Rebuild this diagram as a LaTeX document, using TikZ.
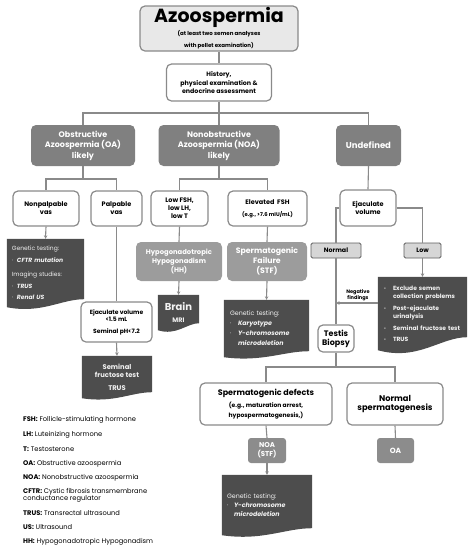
\documentclass[tikz,border=0pt]{standalone}
\usepackage{fontspec}
\setmainfont{Poppins}
\usetikzlibrary{arrows.meta,calc,backgrounds}
\definecolor{lineg}{HTML}{8A8A8A}
\definecolor{boxg}{HTML}{808080}
\definecolor{midg}{HTML}{9C9C9C}
\definecolor{lowg}{HTML}{8C8C8C}
\definecolor{docfill}{HTML}{4D4D4D}
\definecolor{doctext}{HTML}{F2F2F2}
\definecolor{titlefill}{HTML}{E8E8E8}
\definecolor{tagfill}{HTML}{D6D6D6}
\definecolor{tagline}{HTML}{5E5E5E}
\newcommand{\docbg}[2]{\fill[docfill] (#1.north west) -- (#1.north east) -- ($(#1.south east)+(0,-#2)$) .. controls ($(#1.south east)!0.3!(#1.south west)+(0,-#2)$) and ($(#1.south west)!0.45!(#1.south east)+(0,0.85*#2)$) .. (#1.south west) -- cycle;}
\newcommand{\bul}[1]{\makebox[#1][l]{·}}
\newcommand{\fsz}[2]{\fontsize{#1}{#2}\selectfont}
\begin{document}
\begin{tikzpicture}[x=1pt,y=-1pt,
  box/.style={rectangle, rounded corners=5pt, inner sep=1pt, align=center},
  wbox/.style={box, draw=lineg, line width=1.2pt, fill=white, text=black},
  gbox/.style={box, fill=boxg, text=white},
  mbox/.style={box, fill=midg, text=white},
  lbox/.style={box, rounded corners=3pt, fill=lowg, text=white},
  tag/.style={rectangle, rounded corners=1.5pt, draw=tagline, line width=0.8pt, fill=tagfill, inner sep=0pt, font=\bfseries\fsz{6.3}{7}},
  doc/.style={rectangle, inner xsep=5pt, inner ysep=0pt, align=left, text=doctext},
  cdoc/.style={rectangle, inner sep=0pt, align=center, text=doctext},
  conn/.style={draw=lineg, line width=1.1pt},
  arr/.style={conn, -{Stealth[length=3.5pt,width=3.5pt]}},
  leg/.style={anchor=west, inner sep=0pt, align=left, font=\fsz{6.7}{7}}
]
\useasboundingbox (0,0) rectangle (472,550);

% title
\node[wbox, fill=titlefill, minimum width=158pt, minimum height=45pt, font=\bfseries] (title) at (219,28.5)
  {\fsz{19}{19}Azoospermia\\[1pt]\fsz{5.5}{7.5}(at least two semen analyses\\\fsz{5.5}{7.5}with pellet examination)};
\node[wbox, minimum width=105pt, minimum height=37pt, font=\bfseries\fsz{6.3}{8.3}] (hist) at (219,82.5)
  {History,\\physical examination \&\\endocrine assessment};

% level 2
\node[gbox, minimum width=104pt, minimum height=41pt, font=\bfseries\fsz{8}{10.5}] (oa) at (83,145.5)
  {Obstructive\\Azoospermia (OA)\\likely};
\node[gbox, minimum width=121pt, minimum height=41pt, font=\bfseries\fsz{8}{10.5}] (noa) at (219,145.5)
  {Nonobstructive\\Azoospermia (NOA)\\likely};
\node[gbox, minimum width=65pt, minimum height=41pt, font=\bfseries\fsz{8.5}{10}] (undef) at (368.5,145.5)
  {Undefined};

% level 3
\node[wbox, minimum width=66pt, minimum height=35pt, font=\bfseries\fsz{6.5}{8}] (nonpalp) at (46,208.5)
  {Nonpalpable\\vas};
\node[wbox, minimum width=51pt, minimum height=35pt, font=\bfseries\fsz{6.5}{8}] (palp) at (116.5,208.5)
  {Palpable\\vas};
\node[wbox, minimum width=57pt, minimum height=35pt, font=\bfseries\fsz{6.5}{8}] (lowfsh) at (179.5,208.5)
  {Low FSH,\\low LH,\\low T};
\node[wbox, minimum width=79pt, minimum height=35pt, font=\bfseries] (elev) at (267.5,208.5)
  {\fsz{6.5}{7.5}Elevated\ \ FSH\\\fsz{5.3}{7}(e.g., >7.6 mIU/mL)};
\node[wbox, minimum width=56pt, minimum height=36pt, font=\bfseries\fsz{6.5}{8}] (ejac) at (368,208)
  {Ejaculate\\volume};

% tags
\node[tag, minimum width=50pt, minimum height=15pt] (normal) at (336,250.5) {Normal};
\node[tag, minimum width=37pt, minimum height=15pt] (low) at (422.5,250.5) {Low};

% NOA column
\node[mbox, minimum width=86pt, minimum height=39pt, font=\bfseries\fsz{6.8}{9}] (hh) at (179,261.5)
  {Hypogonadotropic\\Hypogonadism\\(HH)};
\node[mbox, minimum width=80pt, minimum height=39pt, font=\bfseries\fsz{7.8}{10}] (stf) at (267,261.5)
  {Spermatogenic\\Failure\\(STF)};

% document boxes
\node[doc, text width=67pt, minimum height=68pt, font=\fsz{6}{11.5}] (doc1) at (45.5,273)
  {Genetic testing:\\\bul{5pt}\textbf{\textit{CFTR mutation}}\\[3pt]Imaging studies:\\\bul{5pt}\textbf{\textit{TRUS}}\\\bul{5pt}\textbf{\textit{Renal US}}};
\node[cdoc, minimum width=41pt, minimum height=35pt, font=\bfseries] (brain) at (178.5,312.5)
  {\fsz{10}{11}Brain\\\fsz{6.5}{8}MRI};
\node[doc, inner xsep=6pt, text width=73pt, minimum height=57pt, font=\fsz{6.3}{10}] (stfdoc) at (266.5,328.5)
  {Genetic testing:\\\bul{8pt}\textbf{\textit{Karyotype}}\\\bul{8pt}\textbf{\textit{Y-chromosome}}\\\hspace*{8pt}\textbf{\textit{microdeletion}}};
\node[wbox, minimum width=71pt, minimum height=40pt, font=\bfseries\fsz{6}{7.5}] (ejac2) at (116.5,322)
  {Ejaculate volume\\<1.5 mL\\[4pt]Seminal pH<7.2};
\node[cdoc, minimum width=70pt, minimum height=42pt, font=\bfseries\fsz{6.8}{8.5}] (palpdoc) at (117,377)
  {Seminal\\fructose test\\[4pt]TRUS};
\node[doc, inner xsep=6pt, text width=77pt, minimum height=73pt, font=\bfseries\fsz{6}{8}] (lowdoc) at (422.5,313.5)
  {\bul{9pt}Exclude semen\\\hspace*{9pt}collection problems\\[4pt]\bul{9pt}Post-ejaculate\\\hspace*{9pt}urinalysis\\[4pt]\bul{9pt}Seminal fructose test\\[3pt]\bul{9pt}TRUS};

\node[inner sep=0pt, align=center, font=\bfseries\fsz{5}{6}] (negf) at (358,295) {Negative\\findings};

% biopsy
\node[wbox, minimum width=36pt, minimum height=27pt, font=\bfseries\fsz{8}{9}] (testis) at (336,338.5)
  {Testis\\Biopsy};
\node[wbox, minimum width=132pt, minimum height=42pt, font=\bfseries] (specdef) at (266,404)
  {\fsz{8}{10}Spermatogenic defects\\\fsz{6}{9}(e.g., maturation arrest,\\[-1.5pt]\fsz{6}{9}hypospermatogenesis,)};
\node[wbox, minimum width=96pt, minimum height=42pt, font=\bfseries\fsz{8.3}{9.5}] (normsp) at (395,404)
  {Normal\\spermatogenesis};
\node[lbox, minimum width=38pt, minimum height=25pt, font=\bfseries\fsz{7}{9}] (noastf) at (267,450.5)
  {NOA\\(STF)};
\node[lbox, minimum width=37pt, minimum height=25pt, font=\bfseries\fsz{7.5}{9}] (oabot) at (395.5,450.5)
  {OA};
\node[doc, text width=80pt, minimum height=60pt, font=\fsz{6.3}{9}] (doc3) at (267,505)
  {Genetic testing:\\\bul{7pt}\textbf{\textit{Y-chromosome}}\\\hspace*{7pt}\textbf{\textit{microdeletion}}\\[8pt]};

% legend
\node[leg] (lg1) at (23,420) {\textbf{FSH:} Follicle-stimulating hormone};
\node[leg] (lg2) at (23,434.5) {\textbf{LH:} Luteinizing hormone};
\node[leg] (lg3) at (23,449) {\textbf{T:} Testosterone};
\node[leg] (lg4) at (23,463.5) {\textbf{OA:} Obstructive azoospermia};
\node[leg] (lg5) at (23,478) {\textbf{NOA:} Nonobstructive azoospermia};
\node[leg] (lg6) at (23,495.5) {\textbf{CFTR:} Cystic fibrosis transmembrane\\conductance regulator};
\node[leg] (lg7) at (23,513) {\textbf{TRUS:} Transrectal ultrasound};
\node[leg] (lg8) at (23,527.5) {\textbf{US:} Ultrasound};
\node[leg] (lg9) at (23,542) {\textbf{HH:} Hypogonadotropic Hypogonadism};

% document shapes
\begin{pgfonlayer}{background}
\docbg{doc1}{8}
\docbg{brain}{7}
\docbg{stfdoc}{6}
\docbg{palpdoc}{6}
\docbg{lowdoc}{13}
\docbg{doc3}{7}
\end{pgfonlayer}

% connectors
\coordinate (j1) at (219,113);
\coordinate (j2) at (83,179);
\coordinate (j3) at (219,179);
\coordinate (j4) at (336,367);
\coordinate (neg) at (336,303);
\draw[conn] (title) -- (hist);
\draw[conn] (hist.south) -- (j1);
\draw[conn] (j1) -| (oa.north);
\draw[conn] (j1) -| (undef.north);
\draw[conn] (j1) -- (noa.north);
\draw[conn] (oa.south) -- (j2);
\draw[conn] (j2) -| (nonpalp.north);
\draw[conn] (j2) -| (palp.north);
\draw[conn] (noa.south) -- (j3);
\draw[conn] (j3) -| (lowfsh.north);
\draw[conn] (j3) -| (elev.north);
\draw[conn] (undef.south) -- (ejac.north);
\draw[conn] (ejac.west) -| (normal.north);
\draw[conn] (ejac.east) -| (low.north);
\draw[arr] (low.south) -- (lowdoc.north);
\draw[conn] (normal.south) -- (testis.north);
\draw[arr] (lowdoc.west |- neg) -- (neg);
\draw[arr] (nonpalp.south) -- (doc1.north);
\draw[conn] (palp.south) -- (ejac2.north);
\draw[arr] (ejac2.south) -- (palpdoc.north);
\draw[conn] (lowfsh.south) -- (hh.north);
\draw[arr] (hh.south) -- (brain.north);
\draw[conn] (elev.south) -- (stf.north);
\draw[arr] (stf.south) -- (stfdoc.north);
\draw[conn] (testis.south) -- (j4);
\draw[conn] (j4) -| (specdef.north);
\draw[conn] (j4) -| (normsp.north);
\draw[conn] (specdef.south) -- (noastf.north);
\draw[conn] (normsp.south) -- (oabot.north);
\draw[arr] (noastf.south) -- (doc3.north);
\end{tikzpicture}
\end{document}
